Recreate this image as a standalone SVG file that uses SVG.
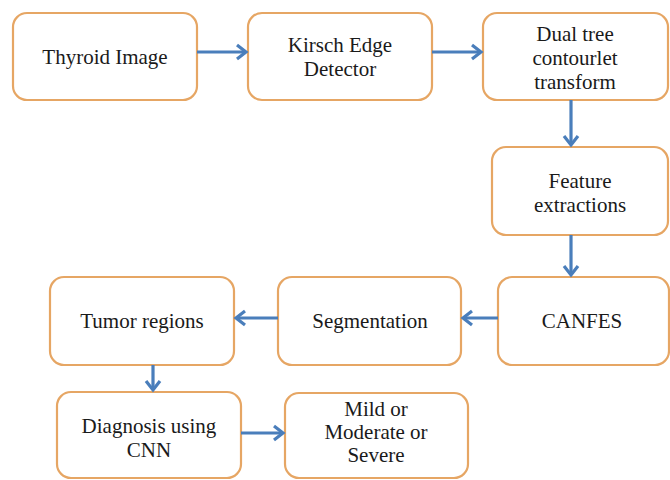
<svg xmlns="http://www.w3.org/2000/svg" width="670" height="480" viewBox="0 0 670 480">
<defs>
<style>
.box{fill:#ffffff;stroke:#E6A664;stroke-width:2.2}
.t{font-size:21px;fill:#1a1a1a;text-anchor:middle}
.c{fill:none;stroke:#4A7EBB;stroke-width:3.2}
</style>
<marker id="ah" markerUnits="userSpaceOnUse" markerWidth="16" markerHeight="18" refX="11" refY="9" orient="auto">
<path d="M2,2 L11,9 L2,16" fill="none" stroke="#4A7EBB" stroke-width="3.2" stroke-linejoin="miter"/>
</marker>
</defs>
<rect width="670" height="480" fill="#ffffff"/>
<g font-family="Liberation Serif, Times New Roman, serif">
<g id="n1"><rect class="box" x="13" y="13" width="184" height="87" rx="14"/><text class="t" x="105" y="64">Thyroid Image</text></g>
<g id="n2"><rect class="box" x="248" y="13" width="184" height="87" rx="14"/><text class="t" x="340" y="52">Kirsch Edge</text><text class="t" x="340" y="76">Detector</text></g>
<g id="n3"><rect class="box" x="483" y="13" width="185" height="87" rx="14"/><text class="t" x="575" y="41">Dual tree</text><text class="t" x="575" y="65">contourlet</text><text class="t" x="575" y="89">transform</text></g>
<g id="n4"><rect class="box" x="492" y="147" width="176" height="88" rx="14"/><text class="t" x="580" y="188">Feature</text><text class="t" x="580" y="212">extractions</text></g>
<g id="n5"><rect class="box" x="498" y="277" width="171" height="88" rx="14"/><text class="t" x="582" y="328">CANFES</text></g>
<g id="n6"><rect class="box" x="278" y="277" width="183" height="88" rx="14"/><text class="t" x="370" y="328">Segmentation</text></g>
<g id="n7"><rect class="box" x="50" y="277" width="184" height="88" rx="14"/><text class="t" x="142" y="328">Tumor regions</text></g>
<g id="n8"><rect class="box" x="57" y="392" width="184" height="86" rx="14"/><text class="t" x="149" y="433">Diagnosis using</text><text class="t" x="149" y="457">CNN</text></g>
<g id="n9"><rect class="box" x="285" y="393" width="183" height="85" rx="14"/><text class="t" x="376" y="416">Mild or</text><text class="t" x="376" y="439">Moderate or</text><text class="t" x="376" y="462">Severe</text></g>
</g>
<g id="connectors">
<line class="c" x1="197" y1="52" x2="246" y2="52" marker-end="url(#ah)"/>
<line class="c" x1="432" y1="52" x2="481" y2="52" marker-end="url(#ah)"/>
<line class="c" x1="571" y1="100" x2="571" y2="145" marker-end="url(#ah)"/>
<line class="c" x1="571" y1="235" x2="571" y2="275" marker-end="url(#ah)"/>
<line class="c" x1="498" y1="318" x2="463" y2="318" marker-end="url(#ah)"/>
<line class="c" x1="278" y1="318" x2="236" y2="318" marker-end="url(#ah)"/>
<line class="c" x1="153" y1="365" x2="153" y2="390" marker-end="url(#ah)"/>
<line class="c" x1="241" y1="433" x2="283" y2="433" marker-end="url(#ah)"/>
</g>
</svg>
